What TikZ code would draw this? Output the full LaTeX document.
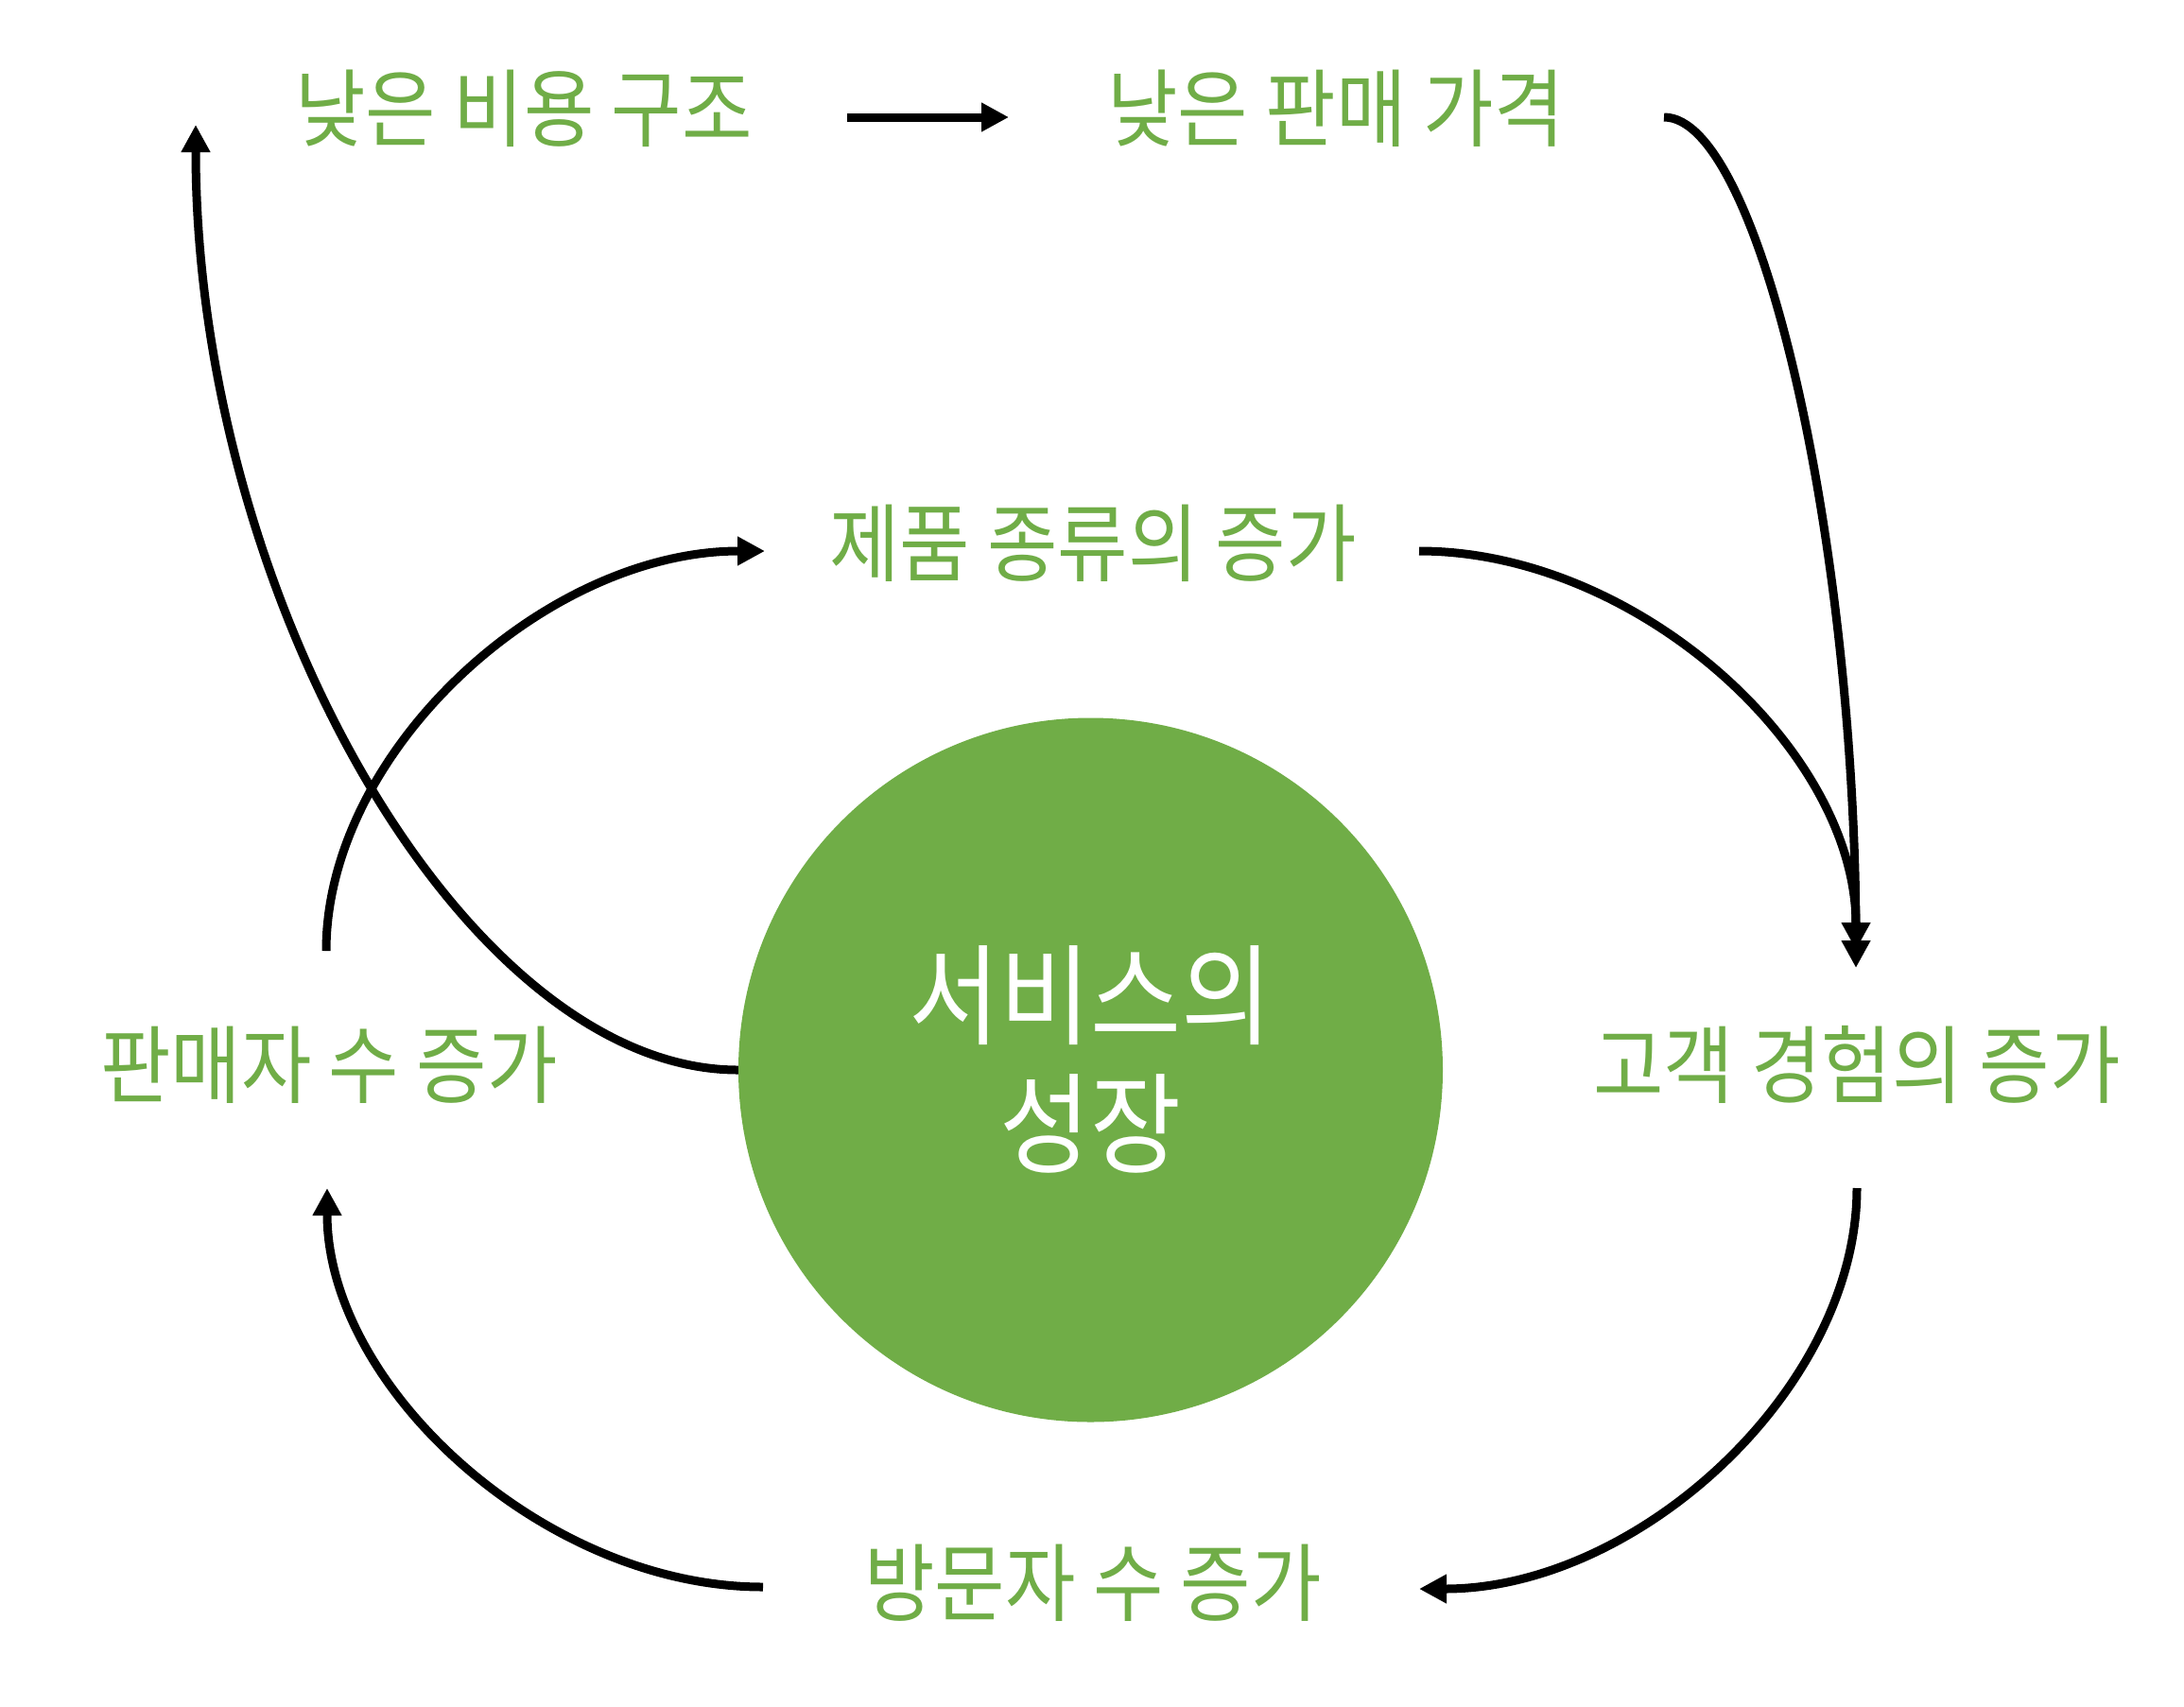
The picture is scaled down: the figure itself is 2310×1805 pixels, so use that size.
\documentclass[tikz,border=0pt]{standalone}
\usepackage{fontspec}
\newfontfamily\krfont[FakeStretch=0.90]{Noto Sans CJK KR}
\usetikzlibrary{arrows.meta}
\definecolor{ogreen}{HTML}{70AD47}
\begin{document}
\begin{tikzpicture}[x=1pt,y=-1pt,
  lbl/.style={font=\krfont\fontsize{90}{100}\selectfont, text=ogreen, inner sep=0pt, text height=69.5pt, text depth=0pt},
  centertext/.style={font=\krfont\fontsize{116}{136}\selectfont, text=white, align=center, inner sep=0pt},
  link/.style={line width=9pt, -{Triangle[length=29pt,width=29pt]}},
]
\useasboundingbox[fill=white] (0,0) rectangle (2310,1805);
\node[circle, fill=ogreen, minimum size=745pt, inner sep=0pt] (growth) at (1153.5,1132) {};
\node[centertext] (gtext) at (1153.5,1121) {서비스의\\성장};
\node[lbl] (cost) at (554,114) {낮은 비용 구조};
\node[lbl] (price) at (1413,114) {낮은 판매 가격};
\node[lbl] (variety) at (1156,574) {제품 종류의 증가};
\node[lbl] (sellers) at (348,1126) {판매자 수 증가};
\node[lbl] (cx) at (1964,1126) {고객 경험의 증가};
\node[lbl] (visitors) at (1156,1674) {방문자 수 증가};
\draw[link] ([shift={(342,10)}]cost.center) -- ([shift={(-346,10)}]price.center);
\draw[link] ([shift={(347,10)}]price.center) .. controls +(101.5,0) and +(0,-450) .. ([shift={(-1,-102)}]cx.center);
\draw[link] ([shift={(345,9)}]variety.center) .. controls +(231,0) and +(0,-211) .. ([shift={(-1,-121)}]cx.center);
\draw[link] ([shift={(0,131)}]cx.center) .. controls +(0,212) and +(231.5,0) .. ([shift={(345,7)}]visitors.center);
\draw[link] ([shift={(-349,5)}]visitors.center) .. controls +(-230.5,0) and +(0,211) .. ([shift={(-2,131)}]sellers.center);
\draw[link] ([shift={(-3,-120)}]sellers.center) .. controls +(0,-211.5) and +(-232,0) .. ([shift={(-347,9)}]variety.center);
\draw[link] (growth.west) .. controls +(-287.5,0) and +(0,500) .. ([shift={(-347,18)}]cost.center);
\end{tikzpicture}
\end{document}
